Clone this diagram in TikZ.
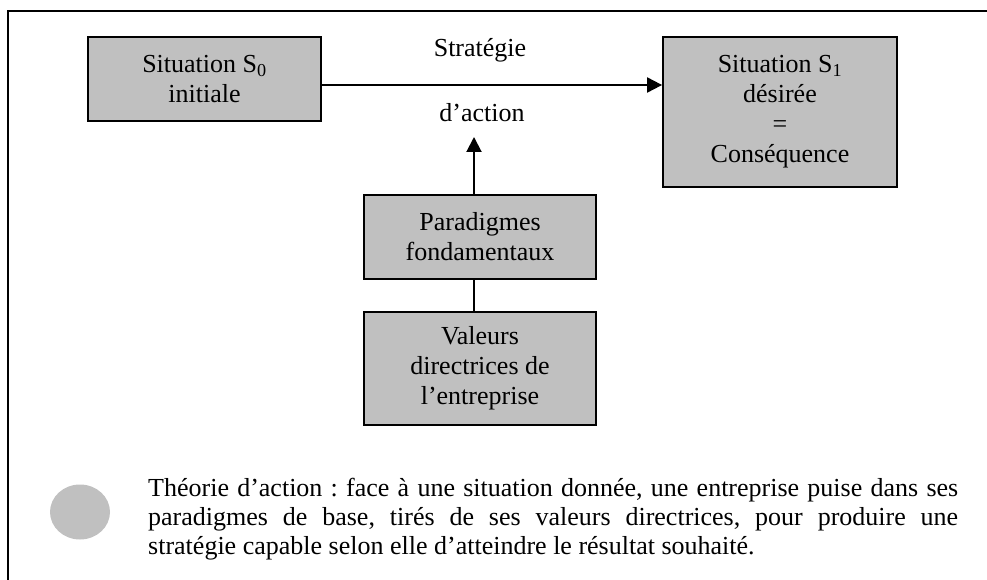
\documentclass[tikz,border=0pt]{standalone}
\usepackage{fontspec}
\setmainfont{Liberation Serif}
\usetikzlibrary{arrows.meta,shapes.geometric}
\definecolor{boxgray}{HTML}{C0C0C0}
\frenchspacing
\begin{document}
\begin{tikzpicture}[x=1pt,y=-1pt,
  box/.style={draw=black, line width=1.8pt, fill=boxgray, align=center, inner sep=0pt, font=\fontsize{26}{30}\selectfont},
  lbl/.style={font=\fontsize{26}{30}\selectfont, inner sep=0pt},
  conn/.style={line width=2pt},
  arr/.style={conn, -{Triangle[length=15pt,width=15pt]}},
  frame/.style={line width=2pt},
  dot/.style={ellipse, fill=boxgray, minimum width=60pt, minimum height=55pt, inner sep=0pt},
  para/.style={anchor=north west, text width=810pt, inner sep=0pt, align=justify, font=\fontsize{26}{29}\selectfont}]
\useasboundingbox (0,0) rectangle (987,580);
\draw[frame] (987,11) -- (8,11) -- (8,580);
\node[box, minimum width=233pt, minimum height=84pt] (s0) at (204.5,79) {Situation S\textsubscript{0}\\initiale};
\node[box, minimum width=234pt, minimum height=150pt] (s1) at (780,112) {Situation S\textsubscript{1}\\désirée\\=\\Conséquence};
\node[box, minimum width=232pt, minimum height=84pt] (par) at (480,237) {Paradigmes\\fondamentaux};
\node[box, minimum width=232pt, minimum height=113pt] (val) at (480,368.5) {Valeurs\\directrices de\\l’entreprise};
\node[lbl] (strat) at (480,50) {Stratégie};
\node[lbl] (act) at (482,113) {d’action};
\coordinate (ay) at (0,85);
\coordinate (tipup) at (474,137);
\draw[arr] (s0.east |- ay) -- (s1.west |- ay);
\draw[arr] (par.north -| tipup) -- (tipup);
\draw[conn] (par.south -| tipup) -- (val.north -| tipup);
\node[dot] (bullet) at (80,512) {};
\node[para] (txt) at (148,478) {Théorie d’action : face à une situation donnée, une entreprise puise dans ses\linebreak paradigmes de base, tirés de ses valeurs directrices, pour produire une\linebreak stratégie capable selon elle d’atteindre le résultat souhaité.};
\end{tikzpicture}
\end{document}
